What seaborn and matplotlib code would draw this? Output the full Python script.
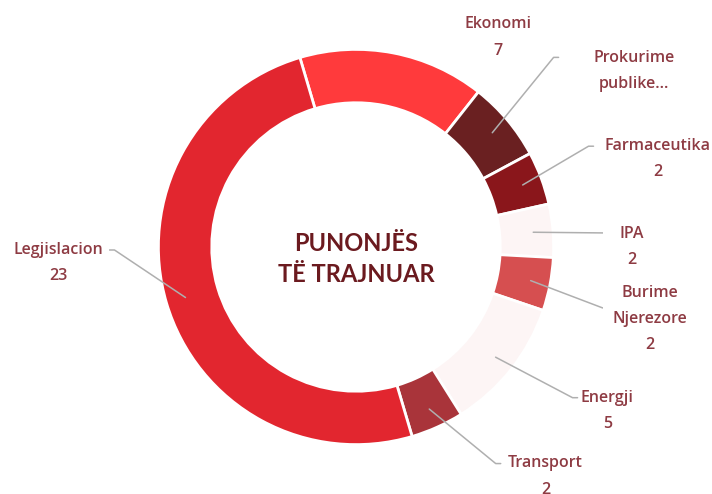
import numpy as np
import matplotlib
matplotlib.use("Agg")
import matplotlib.pyplot as plt
import seaborn as sns

# data
categories = ["Ekonomi", "Prokurime publike", "Farmaceutika", "IPA",
              "Burime Njerezore", "Energji", "Transport", "Legjislacion"]
values = [7, 3, 2, 2, 2, 5, 2, 23]
label_text = ["Ekonomi\n7", "Prokurime\npublike...", "Farmaceutika\n2", "IPA\n2",
              "Burime\nNjerezore\n2", "Energji\n5", "Transport\n2", "Legjislacion\n23"]
colors = ["#FF3A3C", "#6A2021", "#8A161B", "#FDF5F5",
          "#D64F50", "#FDF5F5", "#A9343A", "#E2262F"]

sns.set_style("white")

W, H = 712, 494
R = 198.0
CX, CY = 360, 256


def px(x, y):
    return (x - CX) / R, (CY - y) / R


fig = plt.figure(figsize=(W / 100, H / 100), dpi=100)
ax = fig.add_axes([0, 0, 1, 1])
ax.set_xlim(-CX / R, (W - CX) / R)
ax.set_ylim(-(H - CY) / R, CY / R)
ax.set_aspect("equal")
ax.axis("off")

wedges, _ = ax.pie(values, colors=colors, startangle=106.5, counterclock=False,
                   radius=1.0, wedgeprops=dict(width=0.27, edgecolor="white", linewidth=2))

# label layout (pixel positions of text centres and leader-line elbows)
text_pos = [(502, 46), (639, 80), (662, 168), (636, 256),
            (654, 328), (612, 420), (550, 486), (62, 272)]
elbows = [None, (558, 66), (593, 155), (618, 242),
          (607, 317), (577, 407), (500, 473), (118, 259)]
txt_color = "#8E3B43"

for w, lab, tp, el in zip(wedges, label_text, text_pos, elbows):
    ang = np.deg2rad((w.theta1 + w.theta2) / 2)
    ax0, ay0 = 0.9 * np.cos(ang), 0.9 * np.sin(ang)
    if el is not None:
        ex, ey = px(*el)
        dx = 5 / R if tp[0] > el[0] else -5 / R
        ax.plot([ax0, ex, ex + dx], [ay0, ey, ey], color="#AFAFAF", lw=1.1, zorder=3)
    tx, ty = px(*tp)
    ax.text(tx, ty, lab, ha="center", va="center", fontsize=11.5, color=txt_color,
            fontfamily="Open Sans", fontweight="semibold", linespacing=1.85,
            clip_on=False)

ax.text(0, px(0, 268)[1], "PUNONJËS\nTË TRAJNUAR", ha="center", va="center",
        fontsize=17, fontweight="bold", color="#6B1A1F", fontfamily="Lato",
        linespacing=1.45)

fig.savefig("out.png", dpi=100, facecolor="white")
